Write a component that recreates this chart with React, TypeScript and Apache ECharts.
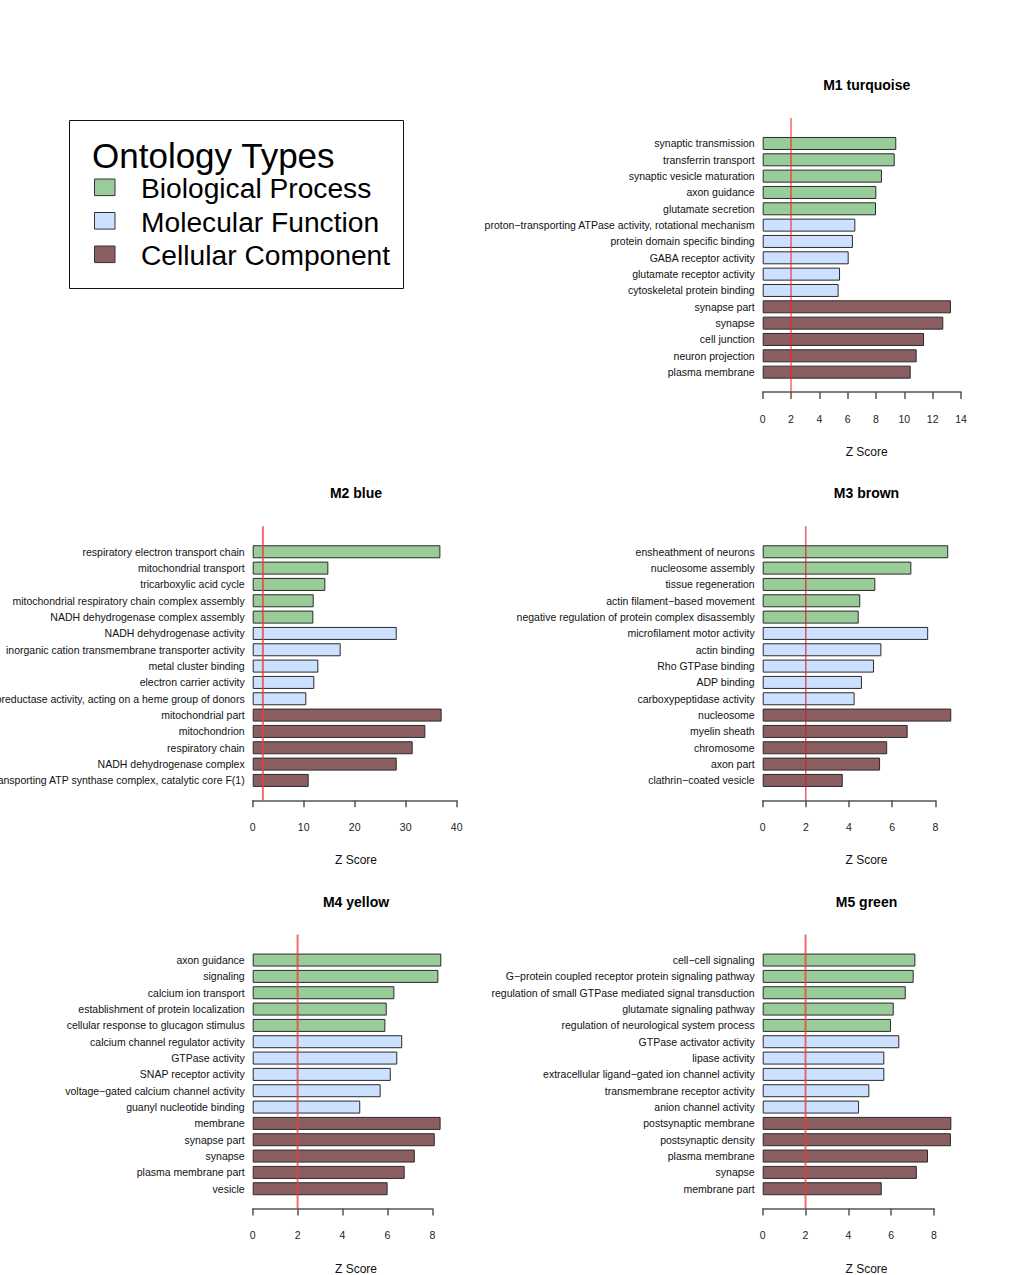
import React, { useEffect, useRef } from "react";
import * as echarts from "echarts";

// ---------- data ----------
const ontologyTypes = ["Biological Process", "Molecular Function", "Cellular Component"];
const ontologyColors = ["#99cc99", "#cce0ff", "#8b5e62"];
// ontology type index for each of the 15 terms (same pattern in every module)
const termTypes = [0, 0, 0, 0, 0, 1, 1, 1, 1, 1, 2, 2, 2, 2, 2];
const zThreshold = 2;

const m1Terms = [
  "synaptic transmission",
  "transferrin transport",
  "synaptic vesicle maturation",
  "axon guidance",
  "glutamate secretion",
  "proton−transporting ATPase activity, rotational mechanism",
  "protein domain specific binding",
  "GABA receptor activity",
  "glutamate receptor activity",
  "cytoskeletal protein binding",
  "synapse part",
  "synapse",
  "cell junction",
  "neuron projection",
  "plasma membrane",
];
const m1Z = [9.43, 9.32, 8.42, 8.02, 8.0, 6.54, 6.37, 6.07, 5.46, 5.36, 13.29, 12.75, 11.39, 10.87, 10.45];

const m2Terms = [
  "respiratory electron transport chain",
  "mitochondrial transport",
  "tricarboxylic acid cycle",
  "mitochondrial respiratory chain complex assembly",
  "NADH dehydrogenase complex assembly",
  "NADH dehydrogenase activity",
  "inorganic cation transmembrane transporter activity",
  "metal cluster binding",
  "electron carrier activity",
  "oxidoreductase activity, acting on a heme group of donors",
  "mitochondrial part",
  "mitochondrion",
  "respiratory chain",
  "NADH dehydrogenase complex",
  "proton−transporting ATP synthase complex, catalytic core F(1)",
];
const m2Z = [36.8, 14.83, 14.24, 11.96, 11.89, 28.24, 17.25, 12.87, 12.08, 10.51, 37.05, 33.85, 31.37, 28.24, 10.98];

const m3Terms = [
  "ensheathment of neurons",
  "nucleosome assembly",
  "tissue regeneration",
  "actin filament−based movement",
  "negative regulation of protein complex disassembly",
  "microfilament motor activity",
  "actin binding",
  "Rho GTPase binding",
  "ADP binding",
  "carboxypeptidase activity",
  "nucleosome",
  "myelin sheath",
  "chromosome",
  "axon part",
  "clathrin−coated vesicle",
];
const m3Z = [8.6, 6.89, 5.22, 4.52, 4.45, 7.67, 5.5, 5.16, 4.6, 4.26, 8.74, 6.72, 5.77, 5.44, 3.71];

const m4Terms = [
  "axon guidance",
  "signaling",
  "calcium ion transport",
  "establishment of protein localization",
  "cellular response to glucagon stimulus",
  "calcium channel regulator activity",
  "GTPase activity",
  "SNAP receptor activity",
  "voltage−gated calcium channel activity",
  "guanyl nucleotide binding",
  "membrane",
  "synapse part",
  "synapse",
  "plasma membrane part",
  "vesicle",
];
const m4Z = [8.4, 8.27, 6.31, 5.97, 5.91, 6.66, 6.44, 6.15, 5.7, 4.79, 8.37, 8.11, 7.22, 6.77, 6.01];

const m5Terms = [
  "cell−cell signaling",
  "G−protein coupled receptor protein signaling pathway",
  "regulation of small GTPase mediated signal transduction",
  "glutamate signaling pathway",
  "regulation of neurological system process",
  "GTPase activator activity",
  "lipase activity",
  "extracellular ligand−gated ion channel activity",
  "transmembrane receptor activity",
  "anion channel activity",
  "postsynaptic membrane",
  "postsynaptic density",
  "plasma membrane",
  "synapse",
  "membrane part",
];
const m5Z = [7.13, 7.05, 6.68, 6.12, 5.99, 6.38, 5.68, 5.68, 4.98, 4.5, 8.81, 8.79, 7.72, 7.2, 5.56];

const moduleTitles = ["M1 turquoise", "M2 blue", "M3 brown", "M4 yellow", "M5 green"];
const moduleTerms = [m1Terms, m2Terms, m3Terms, m4Terms, m5Terms];
const moduleZ = [m1Z, m2Z, m3Z, m4Z, m5Z];
const axisMax = [14, 40, 8, 8, 8];
const axisInterval = [2, 10, 2, 2, 2];
const axisTitle = "Z Score";
const legendTitle = "Ontology Types";

// ---------- layout (pixels) ----------
const FONT = "'Liberation Sans', Arial, Helvetica, sans-serif";
const ROW = 408.3;
const panelLayout = [
  { x0: 762.7, x1: 961, row: 0, cx: 866.7, lw: 1, lc: "#ff1a1a" },
  { x0: 252.7, x1: 456.7, row: 1, cx: 356, lw: 2, lc: "rgba(238,60,60,0.75)" },
  { x0: 762.7, x1: 935.3, row: 1, cx: 866.5, lw: 1, lc: "#e01020" },
  { x0: 252.7, x1: 432.3, row: 2, cx: 356, lw: 2, lc: "rgba(238,60,60,0.75)" },
  { x0: 762.7, x1: 934, row: 2, cx: 866.5, lw: 2, lc: "rgba(238,60,60,0.75)" },
];

function buildOption() {
  const grid: any[] = [];
  const xAxis: any[] = [];
  const yAxis: any[] = [];
  const series: any[] = [];
  const graphic: any[] = [];

  moduleTitles.forEach((title, i) => {
    const L = panelLayout[i];
    const off = L.row * ROW;
    const width = L.x1 - L.x0;
    // bars grid
    grid.push({
      left: L.x0,
      width,
      top: 135.3 + off,
      height: 245,
      containLabel: false,
      outerBoundsMode: "none",
    });
    // threshold/axis grid
    grid.push({
      left: L.x0,
      width,
      top: 118 + off,
      height: 274,
      containLabel: false,
      outerBoundsMode: "none",
    });

    xAxis.push({
      gridIndex: 2 * i,
      type: "value",
      min: 0,
      max: axisMax[i],
      show: false,
    });
    xAxis.push({
      gridIndex: 2 * i + 1,
      type: "value",
      min: 0,
      max: axisMax[i],
      interval: axisInterval[i],
      position: "bottom",
      axisLine: { show: true, onZero: false, lineStyle: { color: "#555", width: 1.5 } },
      axisTick: { show: true, length: 7, lineStyle: { color: "#555", width: 1.5 } },
      axisLabel: { margin: 21, fontSize: 10.5, color: "#222", fontFamily: FONT },
      splitLine: { show: false },
    });
    yAxis.push({
      gridIndex: 2 * i,
      type: "category",
      data: moduleTerms[i],
      inverse: true,
      axisLine: { show: false },
      axisTick: { show: false },
      axisLabel: { margin: 8, fontSize: 10.5, color: "#111", fontFamily: FONT, interval: 0 },
      splitLine: { show: false },
    });
    yAxis.push({
      gridIndex: 2 * i + 1,
      type: "value",
      min: 0,
      max: 1,
      show: false,
    });

    series.push({
      type: "bar",
      xAxisIndex: 2 * i,
      yAxisIndex: 2 * i,
      clip: false,
      barWidth: 13,
      data: moduleZ[i].map((v, k) => ({
        value: v,
        itemStyle: { color: ontologyColors[termTypes[k]] },
      })),
      itemStyle: { borderColor: "#2a2a2a", borderWidth: 1 },
      z: 2,
    });
    series.push({
      type: "line",
      xAxisIndex: 2 * i + 1,
      yAxisIndex: 2 * i + 1,
      data: [
        [zThreshold, 0],
        [zThreshold, 1],
      ],
      symbol: "none",
      lineStyle: { color: L.lc, width: L.lw },
      z: 5,
    });

    graphic.push({
      type: "text",
      x: L.cx,
      y: 85 + off,
      style: {
        text: title,
        font: `bold 14px ${FONT}`,
        fill: "#000",
        align: "center",
        verticalAlign: "middle",
        textAlign: "center",
        textVerticalAlign: "middle",
      },
    });
    graphic.push({
      type: "text",
      x: L.cx,
      y: 452 + off,
      style: {
        text: axisTitle,
        font: `12px ${FONT}`,
        fill: "#111",
        align: "center",
        verticalAlign: "middle",
        textAlign: "center",
        textVerticalAlign: "middle",
      },
    });
  });

  // legend box
  graphic.push({
    type: "rect",
    shape: { x: 69.5, y: 120.5, width: 334, height: 168 },
    style: { fill: "none", stroke: "#111", lineWidth: 1 },
  });
  graphic.push({
    type: "text",
    x: 92,
    y: 155,
    style: {
      text: legendTitle,
      font: `35px ${FONT}`,
      fill: "#000",
      align: "left",
      verticalAlign: "middle",
      textAlign: "left",
      textVerticalAlign: "middle",
    },
  });
  ontologyTypes.forEach((name, k) => {
    const cy = 187.3 + k * 33.5;
    graphic.push({
      type: "rect",
      shape: { x: 94.5, y: cy - 8.3, width: 20.5, height: 16.6 },
      style: { fill: ontologyColors[k], stroke: "#333", lineWidth: 1 },
    });
    graphic.push({
      type: "text",
      x: 141,
      y: cy + 1,
      style: {
        text: name,
        font: `28.2px ${FONT}`,
        fill: "#000",
        align: "left",
        verticalAlign: "middle",
        textAlign: "left",
        textVerticalAlign: "middle",
      },
    });
  });

  return {
    animation: false,
    backgroundColor: "#ffffff",
    textStyle: { fontFamily: FONT },
    grid,
    xAxis,
    yAxis,
    series,
    graphic,
  };
}

export default function App() {
  const ref = useRef<HTMLDivElement | null>(null);
  useEffect(() => {
    if (!ref.current) return;
    const chart = echarts.init(ref.current, undefined, { renderer: "svg" });
    chart.setOption(buildOption() as any);
    return () => chart.dispose();
  }, []);
  return (
    <div
      ref={ref}
      style={{ position: "absolute", left: 0, top: 0, width: 1020, height: 1275, background: "#fff" }}
    />
  );
}
